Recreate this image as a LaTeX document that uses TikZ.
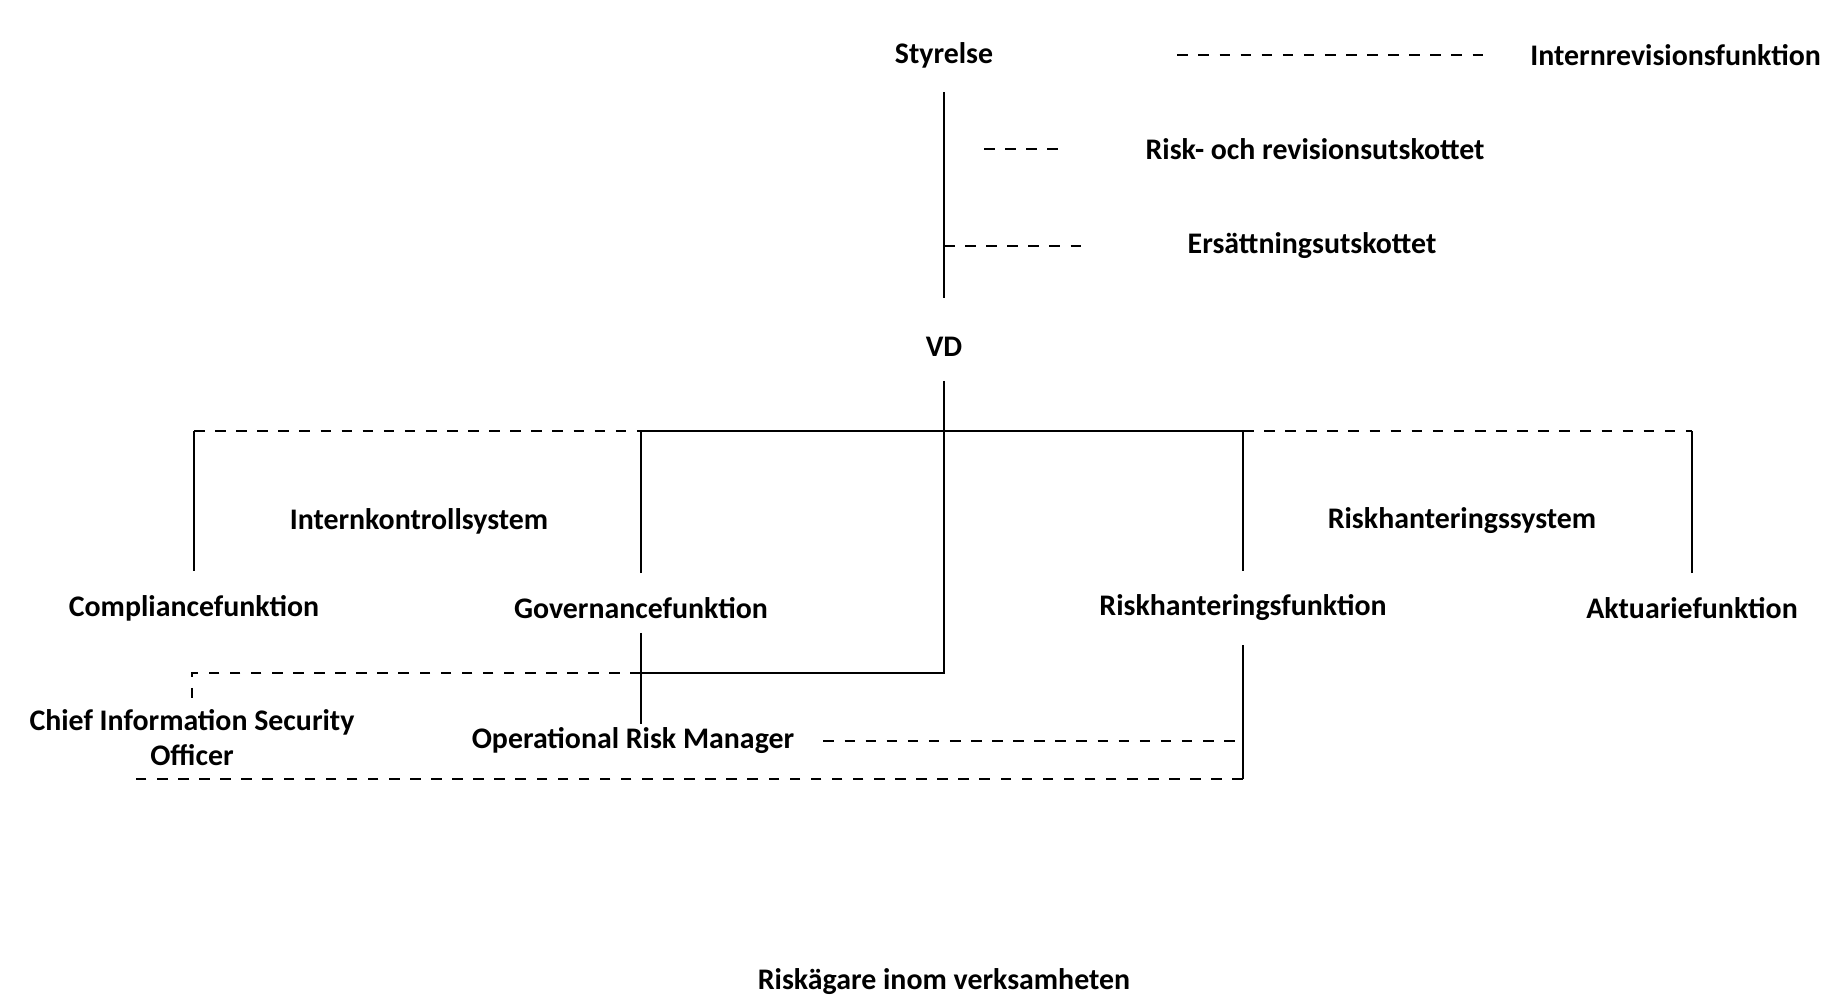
\documentclass[tikz,border=0pt]{standalone}
\usepackage{fontspec}
\setmainfont{Carlito}
\begin{document}
\begin{tikzpicture}[
        every node/.style={font=\bfseries\fontsize{8.5}{10}\selectfont, align=center, inner sep=1pt},
        hard/.style={thick},
        soft/.style={thick, dashed}]
        \useasboundingbox (0,0) rectangle (18.27,-10.03);
        % board and committees
            \node (styr) at (9.44,-0.55) {Styrelse};
            \node[anchor=east] (irf) at (18.25,-0.55) {Internrevisionsfunktion};
            \node (rru) at (13.15,-1.49) {Risk- och revisionsutskottet};
            \node (ers) at (13.12,-2.46) {Ersättningsutskottet};
            \node (vd) at (9.44,-3.47) {VD};
        % functions
            \foreach \n/\x/\t in {compl/1.94/Compliancefunktion,gov/6.41/Governancefunktion,
                                  rhf/12.43/Riskhanteringsfunktion,akt/16.92/Aktuariefunktion}{
                \node (\n) at (\x,-6.08) {\t};
            }
            \node (ics) at (4.19,-5.21) {Internkontrollsystem};
            \node (rms) at (14.62,-5.21) {Riskhanteringssystem};
            \node (ciso) at (1.92,-7.38) {Chief Information Security\\Officer};
            \node (orm) at (6.33,-7.41) {Operational Risk Manager};
            \node (owner) at (9.44,-9.82) {Riskägare inom verksamheten};
            \coordinate (bar) at (9.44,-4.31);
            \coordinate (j) at (9.44,-6.73);
            \coordinate (low) at (1.35,-7.79);
        % board lines
            \draw[soft, shorten <=1.8cm, shorten >=0.4cm] (styr) -- (irf.west);
            \draw[hard, shorten <=0.2cm, shorten >=0.35cm] (styr.south) -- (vd.north);
            \draw[soft, shorten <=0.4cm, shorten >=0.8cm] (styr.south |- rru.west) -- (rru.west);
            \draw[soft, shorten >=1cm] (styr.south |- ers.west) -- (ers.west);
        % bar and drops
            \draw[soft] (compl.north |- bar) -- (gov.north |- bar);
            \draw[hard] (gov.north |- bar) -- (rhf.north |- bar);
            \draw[soft] (rhf.north |- bar) -- (akt.north |- bar);
            \foreach \n in {compl,gov,rhf,akt}{
                \draw[hard, shorten <=0.2cm] (\n.north) -- (\n.north |- bar);
            }
            \draw[hard, shorten <=0.2cm] (vd.south) -- (j) -- (gov.south |- j);
        % reporting lines
            \draw[hard, shorten <=0.1cm] (gov.south) -- (gov.south |- orm.north);
            \draw[soft] (gov.south |- j) -- (ciso.north |- j) -- (ciso.north);
            \draw[soft, shorten <=0.25cm] (orm.east) -- (rhf.south |- orm.east);
            \draw[hard, shorten <=0.2cm] (rhf.south) -- (rhf.south |- low);
            \draw[soft, thin] (rhf.south |- low) -- (low);
        \end{tikzpicture}
\end{document}
